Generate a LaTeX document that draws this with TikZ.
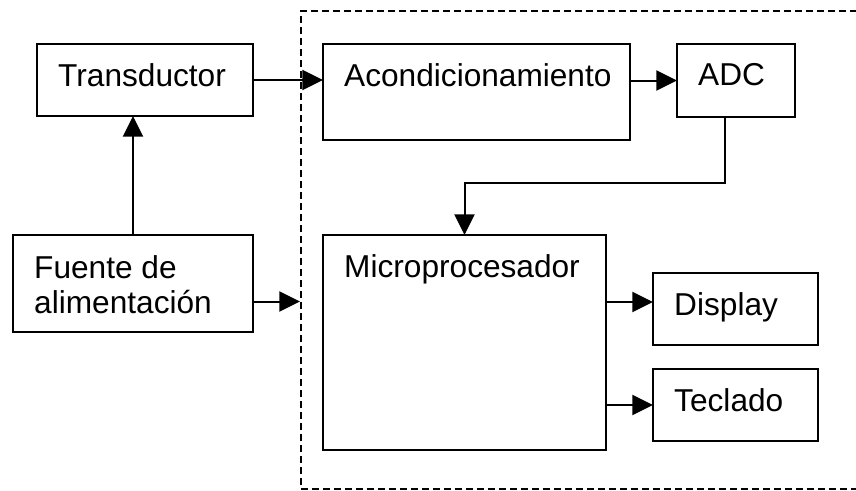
\documentclass[tikz,border=0pt]{standalone}
\usepackage{fontspec}
\setmainfont{Liberation Sans}
\usetikzlibrary{arrows.meta}
\newlength{\px}
\setlength{\px}{0.03cm}
\begin{document}
\begin{tikzpicture}[
        x=0.03cm, y=-0.03cm,
        font=\fontsize{27}{29.9}\selectfont,
        blk/.style={draw, line width=0.08cm, anchor=north west, inner sep=0pt, outer sep=0pt},
        txt/.style={anchor=north west, inner sep=0pt, xshift=21\px, yshift=-19\px, align=left},
        conn/.style={line width=0.06cm, -{Triangle[length=0.62cm, width=0.6cm]}},
        frame/.style={draw, dash pattern=on 0.21cm off 0.12cm, line width=0.055cm, anchor=north west, inner sep=0pt}
    ]
    \useasboundingbox (0,0) rectangle (856,490);

    \node[frame, minimum width=600\px, minimum height=478\px] (ctrl) at (300,10) {};

    \node[blk, minimum width=216\px, minimum height=72\px, label={[txt]north west:Transductor}] (trans) at (37,44) {};
    \node[blk, minimum width=240\px, minimum height=97\px, label={[txt, yshift=-1\px]north west:Fuente de\\alimentación}] (fuente) at (13,235) {};
    \node[blk, minimum width=307\px, minimum height=96\px, label={[txt]north west:Acondicionamiento}] (acond) at (323,44) {};
    \node[blk, minimum width=118\px, minimum height=73\px, label={[txt]north west:ADC}] (adc) at (677,44) {};
    \node[blk, minimum width=283\px, minimum height=215\px, label={[txt]north west:Microprocesador}] (micro) at (323,235) {};
    \node[blk, minimum width=165\px, minimum height=72\px, label={[txt]north west:Display}] (disp) at (653,273) {};
    \node[blk, minimum width=165\px, minimum height=72\px, label={[txt]north west:Teclado}] (tecl) at (653,369) {};

    \draw[conn] (trans.east) -- (trans.east -| acond.west);
    \draw[conn] (adc.west -| acond.east) -- (adc.west);
    \draw[conn] ([xshift=-11\px]adc.south) -- ++(0,66) -| (micro.north);
    \draw[conn] (fuente.north) -- (fuente.north |- trans.south);
    \coordinate (pwr) at ([yshift=-18\px]fuente.east);
    \draw[conn] (pwr) -- (pwr -| ctrl.west);
    \coordinate (dsp) at ([yshift=7\px]disp.west);
    \draw[conn] (dsp -| micro.east) -- (dsp);
    \draw[conn] (tecl.west -| micro.east) -- (tecl.west);
\end{tikzpicture}
\end{document}
